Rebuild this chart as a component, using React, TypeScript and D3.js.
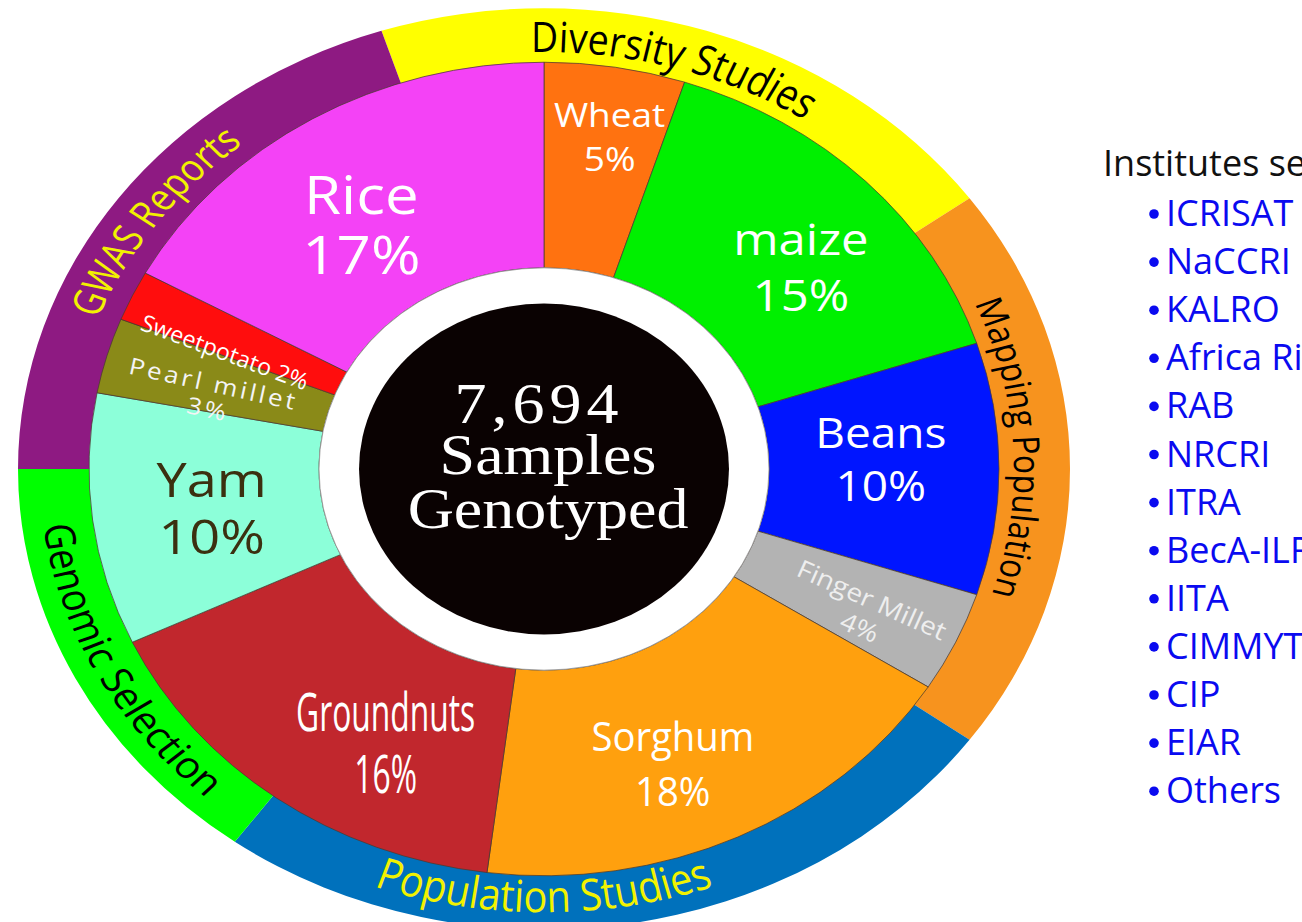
import React from "react";
import * as d3 from "d3";

// inner pie: crops and their share of genotyped samples (%)
const crops = ["Wheat", "maize", "Beans", "Finger Millet", "Sorghum", "Groundnuts", "Yam", "Pearl millet", "Sweetpotato", "Rice"];
const cropShares = [5, 15, 10, 4, 18, 16, 10, 3, 2, 17];
const cropColors = ["#ff7210", "#00f000", "#0015ff", "#b3b3b3", "#ffa00e", "#c1272d", "#8cffd9", "#8a8a18", "#ff0d0d", "#f442f6"];

// outer ring: study types
const studies = ["Diversity Studies", "Mapping Population", "Population Studies", "Genomic Selection", "GWAS Reports"];
const studyShares = [20, 20, 25, 15, 20];
const studyColors = ["#ffff00", "#f7931e", "#0071bc", "#00ff00", "#8e1a82"];
const studyStartDeg = -18;

const sampleCount = "7,694";
const centerLines = ["Samples", "Genotyped"];

const legendTitle = "Institutes served";
const institutes = ["ICRISAT", "NaCCRI", "KALRO", "Africa Rice", "RAB", "NRCRI", "ITRA", "BecA-ILRI", "IITA", "CIMMYT", "CIP", "EIAR", "Others"];

const W = 1302;
const H = 922;
const cx = 544;
const cy = 469;
const pieSy = 0.894; // the figure is squashed vertically
const ringSy = 0.876;
const rad = (d: number) => (d * Math.PI) / 180;
const deg = (r: number) => (r * 180) / Math.PI;

const labelStyle: Record<string, any> = {
  Wheat: { size: 37, sx: 1, gap: 44, r: 378, dA: 1 },
  maize: { size: 49, sx: 1, gap: 56, r: 343, dA: 3.5 },
  Beans: { size: 46, sx: 1, gap: 53, r: 337, dA: -2 },
  "Finger Millet": { size: 28, sx: 1, gap: 30, r: 360, dA: 1.4, radial: true, fill: "#eeeeee" },
  Sorghum: { size: 44, sx: 0.87, gap: 55, r: 353, dA: 3.8 },
  Groundnuts: { size: 60, sx: 0.53, gap: 62, r: 343, dA: -8.5 },
  Yam: { size: 54, sx: 1, gap: 57, r: 335, dA: 0, fill: "#3b3010" },
  "Pearl millet": { size: 26, sx: 1, gap: 26, r: 343, dA: -2.4, radial: true, ls: 3, fill: "#f4f4f4" },
  Sweetpotato: { size: 26, sx: 0.9, gap: 0, r: 345, dA: -2.8, radial: true, single: true },
  Rice: { size: 60, sx: 1, gap: 60, r: 330, dA: -3 },
};

const ringLabelStyle: Record<string, any> = {
  "Diversity Studies": { fill: "#000", cw: true, r: 476, size: 48, span: 34.7, dA: -2.2 },
  "Mapping Population": { fill: "#000", cw: true, r: 470, size: 37, span: 41.5, dA: -3 },
  "Population Studies": { fill: "#f2f200", cw: false, r: 506, size: 50, span: 39.3, dA: 9 },
  "Genomic Selection": { fill: "#000", cw: false, r: 505, size: 42, span: 40.7, dA: -0.7 },
  "GWAS Reports": { fill: "#f2f200", cw: true, r: 478, size: 43, span: 30, dA: 0 },
};

const sans = "'Open Sans', 'Noto Sans', sans-serif";

function arcPathFor(centerDeg: number, r: number, cw: boolean) {
  const a1 = rad(centerDeg - 90);
  const a2 = rad(centerDeg + 90);
  const p = (a: number) => [r * Math.sin(a), -r * Math.cos(a)];
  const [x1, y1] = p(cw ? a1 : a2);
  const [x2, y2] = p(cw ? a2 : a1);
  return `M${x1},${y1} A${r},${r} 0 0 ${cw ? 1 : 0} ${x2},${y2}`;
}

export default function App() {
  const cropPie = d3.pie<number>().sort(null).value((d) => d)(cropShares);
  const studyPie = d3
    .pie<number>()
    .sort(null)
    .value((d) => d)
    .startAngle(rad(studyStartDeg))
    .endAngle(rad(studyStartDeg + 360))(studyShares);

  const cropArc = d3.arc<d3.PieArcDatum<number>>().innerRadius(225).outerRadius(455);
  const ringArc = d3.arc<d3.PieArcDatum<number>>().innerRadius(430).outerRadius(526);

  return (
    <svg width={W} height={H} style={{ position: "absolute", left: 0, top: 0, background: "#fff" }}>
      {/* outer ring */}
      <g transform={`translate(${cx},${cy}) scale(1,${ringSy})`}>
        {studyPie.map((d, i) => (
          <path key={i} d={ringArc(d) ?? ""} fill={studyColors[i]} />
        ))}
        {studyPie.map((d, i) => {
          const st = ringLabelStyle[studies[i]];
          const mid = deg((d.startAngle + d.endAngle) / 2) + st.dA;
          const id = `ring-${i}`;
          return (
            <g key={id}>
              <path id={id} d={arcPathFor(mid, st.r, st.cw)} fill="none" />
              <text fontFamily={sans} fontSize={st.size} fill={st.fill}>
                <textPath
                  href={`#${id}`}
                  startOffset="50%"
                  textAnchor="middle"
                  textLength={rad(st.span) * st.r}
                  lengthAdjust="spacingAndGlyphs"
                >
                  {studies[i]}
                </textPath>
              </text>
            </g>
          );
        })}
      </g>

      {/* crop pie */}
      <g transform={`translate(${cx},${cy}) scale(1,${pieSy})`}>
        {cropPie.map((d, i) => (
          <path key={i} d={cropArc(d) ?? ""} fill={cropColors[i]} stroke="#4a3a30" strokeWidth={0.8} />
        ))}
        <circle r={225} fill="#fff" stroke="#8a8a8a" strokeWidth={0.8} />
        <circle r={185} fill="#0a0202" />
      </g>

      {/* crop labels */}
      {cropPie.map((d, i) => {
        const name = crops[i];
        const st = labelStyle[name];
        const a = (d.startAngle + d.endAngle) / 2 + rad(st.dA);
        const x = cx + st.r * Math.sin(a);
        const y = cy - st.r * Math.cos(a) * pieSy;
        let rot = 0;
        if (st.radial) {
          const dx = Math.sin(a);
          const dy = -Math.cos(a) * pieSy;
          rot = deg(Math.atan2(dy, dx));
          if (dx < 0) rot += 180;
        }
        const fill = st.fill ?? "#ffffff";
        const off = st.gap / 2 / pieSy;
        return (
          <g
            key={name}
            transform={`translate(${x},${y}) rotate(${rot}) scale(${st.sx},${pieSy})`}
            fontFamily={sans}
            fontSize={st.size}
            fill={fill}
            textAnchor="middle"
            letterSpacing={st.ls ?? 0}
          >
            {st.single ? (
              <text dominantBaseline="central">{`${name} ${cropShares[i]}%`}</text>
            ) : (
              <>
                <text y={-off} dominantBaseline="central">{name}</text>
                <text y={off} dominantBaseline="central">{`${cropShares[i]}%`}</text>
              </>
            )}
          </g>
        );
      })}

      {/* centre text */}
      <g
        transform={`translate(${cx + 4},${cy}) scale(1,${pieSy})`}
        fontFamily="'Liberation Serif', 'Times New Roman', serif"
        fontSize={64}
        fill="#fff"
        textAnchor="middle"
      >
        <text x={-9} y={-52} letterSpacing={5}>{sampleCount}</text>
        <text y={6}>{centerLines[0]}</text>
        <text y={66}>{centerLines[1]}</text>
      </g>

      {/* legend */}
      <g fontFamily={sans}>
        <text x={1103} y={176} fontSize={36} fill="#111">{legendTitle}</text>
        {institutes.map((name, i) => {
          const by = 226 + i * 48.1;
          return (
            <g key={name} fill="#0a0af0">
              <circle cx={1154} cy={by - 12} r={4.8} />
              <text x={1166} y={by} fontSize={36}>{name}</text>
            </g>
          );
        })}
      </g>
    </svg>
  );
}
